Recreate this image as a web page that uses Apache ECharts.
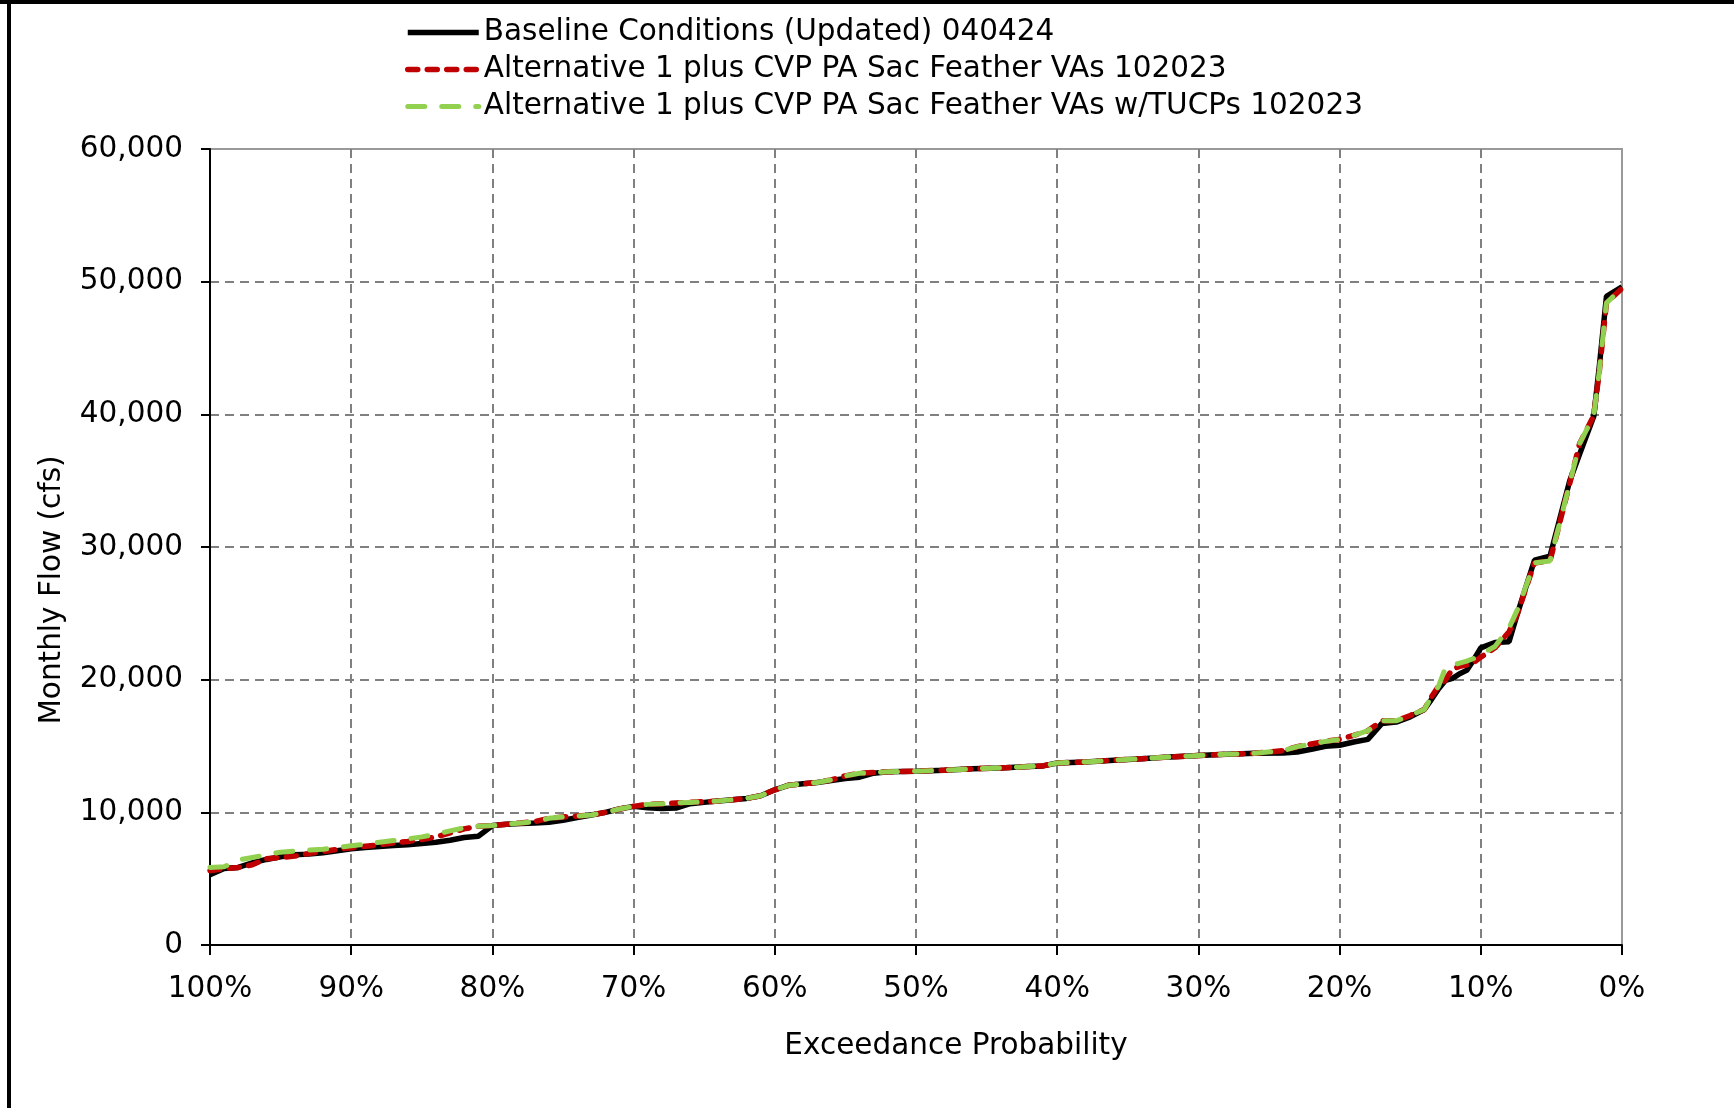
<!DOCTYPE html>
<html>
<head>
<meta charset="utf-8">
<script src="https://cdn.jsdelivr.net/npm/echarts@6/dist/echarts.min.js"></script>
<style>
html,body{margin:0;padding:0;background:#fff;}
#chart{width:1734px;height:1108px;}
</style>
</head>
<body>
<div id="chart"></div>
<script>
// Exceedance probability (%)
const exceedance = [100, 99, 98, 97, 96, 95, 94, 93, 92, 91, 90, 89, 88, 87, 86, 85, 84, 83, 82, 81, 80, 79, 78, 77, 76, 75, 74, 73, 72, 71, 70, 69, 68, 67, 66, 65, 64, 63, 62, 61, 60, 59, 58, 57, 56, 55, 54, 53, 52, 51, 50, 48, 46, 44, 42, 41, 40, 38, 36, 34, 32, 30, 28, 26, 24, 23, 22, 21, 20, 19, 18, 17, 16, 15, 14, 13.5, 13, 12.5, 12, 11.5, 11, 10.5, 10, 9, 8, 7.4, 6.2, 5.1, 3.7, 3, 2, 1.6, 1.1, 0];

// Monthly flow (cfs)
const baseline = [5300, 5760, 5850, 6200, 6450, 6650, 6800, 6850, 6950, 7100, 7250, 7350, 7420, 7500, 7550, 7650, 7750, 7900, 8100, 8200, 9000, 9100, 9150, 9200, 9260, 9400, 9600, 9800, 10000, 10250, 10450, 10350, 10280, 10320, 10650, 10750, 10850, 10950, 11050, 11250, 11700, 12050, 12150, 12250, 12400, 12550, 12650, 12950, 13050, 13080, 13100, 13180, 13280, 13350, 13450, 13500, 13720, 13800, 13930, 14040, 14180, 14280, 14380, 14450, 14480, 14550, 14750, 14980, 15060, 15300, 15500, 16700, 16800, 17200, 17750, 18500, 19300, 19950, 20100, 20450, 20700, 21500, 22400, 22800, 22860, 25000, 29000, 29300, 35000, 37000, 39850, 43700, 48900, 49600];

const alt1 = [5600, 5750, 5850, 6050, 6500, 6600, 6700, 6900, 7050, 7200, 7330, 7450, 7550, 7700, 7800, 7950, 8150, 8450, 8750, 8950, 9000, 9100, 9200, 9300, 9550, 9650, 9720, 9800, 10000, 10250, 10450, 10600, 10650, 10700, 10750, 10800, 10850, 10950, 11050, 11250, 11700, 12050, 12150, 12250, 12450, 12750, 12950, 13000, 13050, 13080, 13100, 13180, 13280, 13350, 13450, 13500, 13720, 13800, 13930, 14040, 14180, 14280, 14380, 14450, 14650, 14950, 15150, 15350, 15500, 15800, 16150, 16900, 16900, 17300, 17750, 18700, 19500, 20000, 20800, 21000, 21100, 21300, 21700, 22400, 23600, 25000, 28800, 28950, 34800, 37800, 39900, 43300, 48400, 49500];

const alt1Tucp = [5850, 5900, 6400, 6600, 6800, 7000, 7080, 7150, 7220, 7350, 7480, 7600, 7750, 7880, 8000, 8150, 8350, 8600, 8830, 8950, 9000, 9100, 9200, 9300, 9550, 9650, 9720, 9800, 10000, 10250, 10450, 10600, 10650, 10700, 10750, 10800, 10850, 10950, 11050, 11250, 11700, 12050, 12150, 12250, 12450, 12750, 12950, 13000, 13050, 13080, 13100, 13180, 13280, 13350, 13450, 13500, 13720, 13800, 13930, 14040, 14180, 14280, 14380, 14450, 14650, 14950, 15150, 15350, 15500, 15800, 16150, 16900, 16900, 17300, 17750, 18700, 19500, 20900, 21100, 21250, 21400, 21600, 21900, 22500, 23900, 25300, 28800, 28950, 34800, 37800, 39900, 43300, 48400, 49500];

const seriesNames = [
  'Baseline Conditions (Updated) 040424',
  'Alternative 1 plus CVP PA Sac Feather VAs 102023',
  'Alternative 1 plus CVP PA Sac Feather VAs w/TUCPs 102023'
];

const FONT = 'DejaVu Sans';
const pairs = arr => exceedance.map((p, i) => [p, arr[i]]);

const styles = [
  {color: '#000000', width: 5.5, type: 'solid', cap: 'butt'},
  {color: '#C00000', width: 5.5, type: [10, 9.5], cap: 'round'},
  {color: '#92D050', width: 5, type: [17, 17], cap: 'round'}
];
const dataSets = [baseline, alt1, alt1Tucp];

const chart = echarts.init(document.getElementById('chart'), null, {renderer: 'canvas'});
chart.setOption({
  animation: false,
  backgroundColor: '#ffffff',
  textStyle: {fontFamily: FONT},
  graphic: [
    {type: 'line', shape: {x1: 9, y1: 0, x2: 9, y2: 1108}, style: {stroke: '#000', lineWidth: 4}, z: 100},
    {type: 'line', shape: {x1: 0, y1: 2, x2: 1734, y2: 2}, style: {stroke: '#000', lineWidth: 4}, z: 100}
  ],
  legend: {
    orient: 'vertical',
    left: 400,
    top: 12,
    icon: 'inherit',
    itemWidth: 71,
    itemHeight: 14,
    itemGap: 6,
    itemTextGap: 7,
    data: seriesNames.map((n, i) => ({
      name: n,
      icon: 'inherit',
      lineStyle: {color: styles[i].color, width: styles[i].width, type: styles[i].type, cap: styles[i].cap},
      itemStyle: {opacity: 0}
    })),
    textStyle: {fontFamily: FONT, fontSize: 29.5, color: '#000', lineHeight: 31},
    selectedMode: false
  },
  grid: {
    left: 210, right: 112, top: 149, bottom: 163,
    show: true, borderColor: '#999999', borderWidth: 2
  },
  xAxis: {
    type: 'value',
    inverse: true,
    min: 0, max: 100, interval: 10,
    name: 'Exceedance Probability',
    nameLocation: 'middle',
    nameGap: 86,
    nameTextStyle: {fontFamily: FONT, fontSize: 29.5, color: '#000', padding: [0, 0, 0, 80]},
    axisLine: {show: true, onZero: false, lineStyle: {color: '#000', width: 2}},
    axisTick: {show: true, inside: false, length: 10, lineStyle: {color: '#000', width: 2}},
    axisLabel: {formatter: v => v + '%', fontFamily: FONT, fontSize: 29.5, color: '#000', margin: 29},
    splitLine: {show: true, showMinLine: false, lineStyle: {color: '#808080', width: 2, type: [9, 6]}}
  },
  yAxis: {
    type: 'value',
    position: 'left',
    min: 0, max: 60000, interval: 10000,
    name: 'Monthly Flow (cfs)',
    nameLocation: 'middle',
    nameGap: 143,
    nameRotate: 90,
    nameTextStyle: {fontFamily: FONT, fontSize: 29.5, color: '#000', padding: [0, 86, 0, 0]},
    axisLine: {show: true, onZero: false, lineStyle: {color: '#000', width: 2}},
    axisTick: {show: true, inside: false, length: 9, lineStyle: {color: '#000', width: 2}},
    axisLabel: {formatter: v => v.toLocaleString('en-US'), fontFamily: FONT, fontSize: 29.5, color: '#000', margin: 27},
    splitLine: {show: true, showMaxLine: false, lineStyle: {color: '#808080', width: 2, type: [9, 6]}}
  },
  series: dataSets.map((d, i) => ({
    name: seriesNames[i], type: 'line', data: pairs(d),
    symbol: 'none', showSymbol: false, z: 2 + i,
    lineStyle: {color: styles[i].color, width: styles[i].width, type: styles[i].type, cap: styles[i].cap},
    itemStyle: {color: styles[i].color}
  }))
});
</script>
</body>
</html>
